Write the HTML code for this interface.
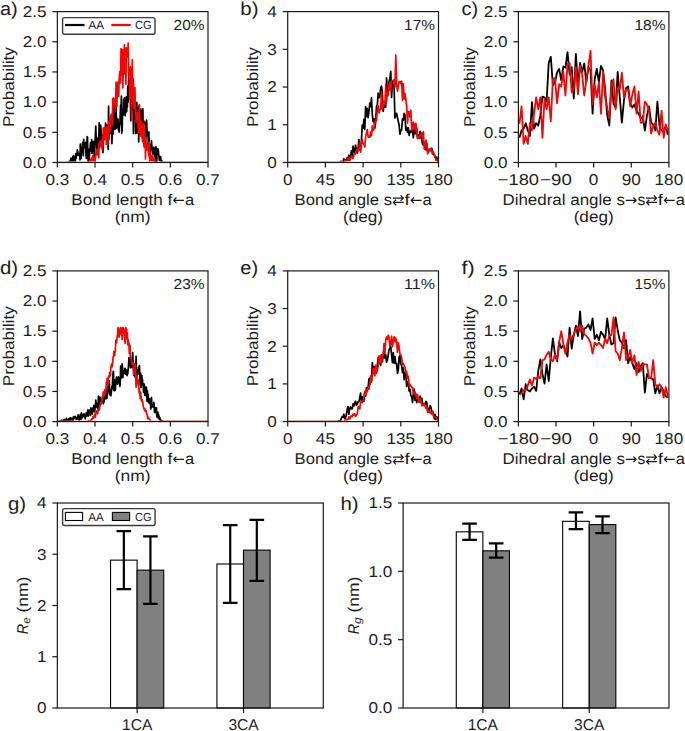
<!DOCTYPE html>
<html><head><meta charset="utf-8"><style>
html,body{margin:0;padding:0;background:#fff;}
svg{display:block;font-family:"Liberation Sans", sans-serif;text-rendering:geometricPrecision;}
</style></head><body>
<svg width="685" height="731" viewBox="0 0 685 731">
<rect width="685" height="731" fill="#fff"/>
<clipPath id="clipa"><rect x="57.35" y="11.6" width="150.65" height="150.0"/></clipPath>
<g clip-path="url(#clipa)">
<polyline points="57.35,162.50 57.73,162.50 58.10,162.50 58.48,162.50 58.86,162.50 59.23,162.50 59.61,162.50 59.99,162.50 60.36,162.50 60.74,162.50 61.12,162.50 61.49,162.50 61.87,162.50 62.25,162.50 62.62,162.50 63.00,162.50 63.38,162.50 63.75,162.50 64.13,162.50 64.51,162.50 64.88,162.50 65.26,162.50 65.64,162.50 66.01,162.50 66.39,162.50 66.77,162.50 67.14,162.50 67.52,162.50 67.90,162.50 68.27,162.50 68.65,162.50 69.03,161.73 69.40,161.52 69.78,162.50 70.16,162.50 70.53,160.18 70.91,158.03 71.29,159.63 71.66,162.50 72.04,160.38 72.41,162.26 72.79,156.48 73.17,158.28 73.54,155.61 73.92,156.90 74.30,161.09 74.67,162.50 75.05,162.50 75.43,161.01 75.80,153.49 76.18,158.22 76.56,154.90 76.93,155.58 77.31,149.85 77.69,151.37 78.06,152.76 78.44,153.31 78.82,155.33 79.19,154.00 79.57,154.46 79.95,159.99 80.32,144.18 80.70,155.16 81.08,158.75 81.45,150.49 81.83,147.21 82.21,151.92 82.58,142.39 82.96,150.60 83.34,155.70 83.71,139.47 84.09,148.02 84.47,146.58 84.84,143.04 85.22,145.83 85.60,142.44 85.97,154.70 86.35,158.43 86.73,153.40 87.10,136.56 87.48,137.21 87.86,154.02 88.23,162.50 88.61,162.50 88.99,149.28 89.36,159.66 89.74,149.01 90.12,148.86 90.49,142.96 90.87,145.37 91.25,151.13 91.62,139.68 92.00,153.53 92.38,150.94 92.75,145.15 93.13,141.40 93.51,141.77 93.88,141.79 94.26,159.20 94.64,144.56 95.01,140.91 95.39,135.53 95.77,126.11 96.14,137.05 96.52,147.74 96.90,149.68 97.27,138.86 97.65,147.45 98.03,142.25 98.40,136.92 98.78,139.20 99.16,122.95 99.53,141.21 99.91,144.36 100.29,141.41 100.66,124.98 101.04,129.06 101.42,136.30 101.79,134.46 102.17,140.94 102.55,144.26 102.92,152.66 103.30,143.12 103.67,134.07 104.05,131.32 104.43,131.83 104.80,139.57 105.18,138.55 105.56,123.14 105.93,138.24 106.31,131.55 106.69,125.12 107.06,136.42 107.44,126.63 107.82,139.40 108.19,149.39 108.57,106.13 108.95,139.58 109.32,125.48 109.70,119.44 110.08,131.55 110.45,133.38 110.83,128.13 111.21,133.73 111.58,120.13 111.96,143.54 112.34,126.90 112.71,117.99 113.09,134.05 113.47,120.61 113.84,117.97 114.22,102.91 114.60,106.68 114.97,129.37 115.35,108.87 115.73,109.11 116.10,103.90 116.48,128.09 116.86,118.47 117.23,121.21 117.61,125.79 117.99,119.11 118.36,129.65 118.74,123.92 119.12,132.29 119.49,124.97 119.87,124.83 120.25,113.63 120.62,104.92 121.00,115.85 121.38,96.11 121.75,133.07 122.13,130.73 122.51,114.56 122.88,108.23 123.26,115.22 123.64,99.10 124.01,110.17 124.39,97.77 124.77,108.48 125.14,115.79 125.52,110.73 125.90,107.93 126.27,96.97 126.65,111.81 127.03,99.83 127.40,106.97 127.78,85.78 128.16,102.26 128.53,81.68 128.91,79.63 129.29,74.03 129.66,68.94 130.04,88.96 130.42,101.08 130.79,120.85 131.17,114.20 131.55,106.93 131.92,81.79 132.30,108.54 132.68,90.97 133.05,104.08 133.43,133.58 133.80,102.77 134.18,94.59 134.56,100.73 134.93,98.08 135.31,113.26 135.69,133.60 136.06,108.85 136.44,123.36 136.82,102.47 137.19,132.87 137.57,121.43 137.95,108.43 138.32,116.44 138.70,141.91 139.08,105.69 139.45,134.90 139.83,116.84 140.21,125.70 140.58,124.00 140.96,109.20 141.34,120.62 141.71,133.65 142.09,117.42 142.47,126.57 142.84,108.79 143.22,130.12 143.60,120.61 143.97,136.17 144.35,125.41 144.73,137.51 145.10,122.18 145.48,147.68 145.86,138.78 146.23,127.88 146.61,120.02 146.99,129.29 147.36,135.78 147.74,135.44 148.12,133.50 148.49,151.65 148.87,131.95 149.25,146.16 149.62,144.13 150.00,155.35 150.38,150.79 150.75,145.38 151.13,149.43 151.51,140.75 151.88,146.79 152.26,149.44 152.64,154.24 153.01,148.95 153.39,147.40 153.77,150.55 154.14,152.73 154.52,157.32 154.90,148.90 155.27,147.36 155.65,162.50 156.03,146.73 156.40,156.16 156.78,161.14 157.16,148.84 157.53,153.61 157.91,148.78 158.29,149.93 158.66,153.89 159.04,157.42 159.42,160.39 159.79,159.39 160.17,160.28 160.55,156.54 160.92,159.80 161.30,162.07 161.68,160.46 162.05,162.50 162.43,162.50 162.81,162.50 163.18,162.50 163.56,162.50 163.93,162.50 164.31,162.50 164.69,162.50 165.06,162.50 165.44,162.50 165.82,162.50 166.19,162.50 166.57,162.50 166.95,162.50 167.32,162.50 167.70,162.50 168.08,162.50 168.45,162.50 168.83,162.50 169.21,162.50 169.58,162.50 169.96,162.50 170.34,162.50 170.71,162.50 171.09,162.50 171.47,162.50 171.84,162.50 172.22,162.50 172.60,162.50 172.97,162.50 173.35,162.50 173.73,162.50 174.10,162.50 174.48,162.50 174.86,162.50 175.23,162.50 175.61,162.50 175.99,162.50 176.36,162.50 176.74,162.50 177.12,162.50 177.49,162.50 177.87,162.50 178.25,162.50 178.62,162.50 179.00,162.50 179.38,162.50 179.75,162.50 180.13,162.50 180.51,162.50 180.88,162.50 181.26,162.50 181.64,162.50 182.01,162.50 182.39,162.50 182.77,162.50 183.14,162.50 183.52,162.50 183.90,162.50 184.27,162.50 184.65,162.50 185.03,162.50 185.40,162.50 185.78,162.50 186.16,162.50 186.53,162.50 186.91,162.50 187.29,162.50 187.66,162.50 188.04,162.50 188.42,162.50 188.79,162.50 189.17,162.50 189.55,162.50 189.92,162.50 190.30,162.50 190.68,162.50 191.05,162.50 191.43,162.50 191.81,162.50 192.18,162.50 192.56,162.50 192.93,162.50 193.31,162.50 193.69,162.50 194.06,162.50 194.44,162.50 194.82,162.50 195.19,162.50 195.57,162.50 195.95,162.50 196.32,162.50 196.70,162.50 197.08,162.50 197.45,162.50 197.83,162.50 198.21,162.50 198.58,162.50 198.96,162.50 199.34,162.50 199.71,162.50 200.09,162.50 200.47,162.50 200.84,162.50 201.22,162.50 201.60,162.50 201.97,162.50 202.35,162.50 202.73,162.50 203.10,162.50 203.48,162.50 203.86,162.50 204.23,162.50 204.61,162.50 204.99,162.50 205.36,162.50 205.74,162.50 206.12,162.50 206.49,162.50 206.87,162.50 207.25,162.50 207.62,162.50 208.00,162.50" fill="none" stroke="#000000" stroke-width="1.7" stroke-linejoin="round"/>
<polyline points="57.35,162.50 57.73,162.50 58.10,162.50 58.48,162.50 58.86,162.50 59.23,162.50 59.61,162.50 59.99,162.50 60.36,162.50 60.74,162.50 61.12,162.50 61.49,162.50 61.87,162.50 62.25,162.50 62.62,162.50 63.00,162.50 63.38,162.50 63.75,162.50 64.13,162.50 64.51,162.50 64.88,162.50 65.26,162.50 65.64,162.50 66.01,162.50 66.39,162.50 66.77,162.50 67.14,162.50 67.52,162.50 67.90,162.50 68.27,162.50 68.65,162.50 69.03,162.50 69.40,162.50 69.78,162.50 70.16,162.50 70.53,162.50 70.91,162.50 71.29,162.50 71.66,162.50 72.04,162.50 72.41,162.50 72.79,162.50 73.17,162.50 73.54,162.50 73.92,162.50 74.30,162.50 74.67,162.50 75.05,162.50 75.43,162.50 75.80,162.50 76.18,162.50 76.56,162.50 76.93,162.50 77.31,162.50 77.69,162.50 78.06,162.50 78.44,162.50 78.82,162.50 79.19,162.50 79.57,162.50 79.95,162.50 80.32,162.50 80.70,162.50 81.08,162.50 81.45,162.50 81.83,162.50 82.21,162.50 82.58,162.50 82.96,162.50 83.34,162.50 83.71,162.50 84.09,162.50 84.47,162.50 84.84,162.50 85.22,162.50 85.60,162.50 85.97,162.50 86.35,162.50 86.73,162.50 87.10,162.50 87.48,162.50 87.86,162.50 88.23,162.50 88.61,162.50 88.99,162.50 89.36,162.50 89.74,160.63 90.12,162.11 90.49,162.50 90.87,160.70 91.25,158.53 91.62,162.50 92.00,159.61 92.38,156.89 92.75,155.57 93.13,157.56 93.51,160.22 93.88,160.88 94.26,159.00 94.64,157.23 95.01,162.20 95.39,157.75 95.77,155.55 96.14,149.89 96.52,154.98 96.90,153.55 97.27,152.65 97.65,154.27 98.03,148.52 98.40,154.25 98.78,157.99 99.16,142.88 99.53,147.96 99.91,141.75 100.29,142.09 100.66,146.48 101.04,140.87 101.42,146.89 101.79,141.44 102.17,149.29 102.55,136.56 102.92,147.26 103.30,128.11 103.67,135.02 104.05,127.59 104.43,136.52 104.80,137.66 105.18,133.72 105.56,127.49 105.93,132.71 106.31,144.46 106.69,134.85 107.06,126.43 107.44,133.59 107.82,145.20 108.19,131.78 108.57,139.62 108.95,122.17 109.32,120.59 109.70,132.23 110.08,125.96 110.45,116.39 110.83,116.11 111.21,114.11 111.58,114.52 111.96,116.36 112.34,124.84 112.71,98.55 113.09,105.39 113.47,97.77 113.84,98.71 114.22,101.67 114.60,102.54 114.97,103.76 115.35,111.57 115.73,97.78 116.10,82.20 116.48,102.19 116.86,106.17 117.23,88.71 117.61,82.28 117.99,88.43 118.36,91.25 118.74,96.30 119.12,80.33 119.49,74.77 119.87,71.63 120.25,78.20 120.62,82.86 121.00,48.65 121.38,69.29 121.75,53.45 122.13,74.76 122.51,49.49 122.88,87.85 123.26,70.94 123.64,53.71 124.01,65.67 124.39,44.80 124.77,73.88 125.14,47.82 125.52,57.32 125.90,84.03 126.27,47.82 126.65,48.21 127.03,56.65 127.40,51.28 127.78,55.03 128.16,42.99 128.53,72.73 128.91,77.19 129.29,74.16 129.66,95.47 130.04,70.38 130.42,66.60 130.79,94.12 131.17,101.40 131.55,120.00 131.92,89.66 132.30,59.70 132.68,84.63 133.05,101.34 133.43,78.96 133.80,102.87 134.18,108.65 134.56,102.27 134.93,87.64 135.31,107.68 135.69,108.41 136.06,122.75 136.44,115.09 136.82,114.38 137.19,117.68 137.57,112.26 137.95,117.43 138.32,132.29 138.70,126.61 139.08,116.05 139.45,104.71 139.83,123.51 140.21,136.33 140.58,121.06 140.96,122.61 141.34,135.99 141.71,130.96 142.09,138.01 142.47,141.15 142.84,123.09 143.22,141.74 143.60,142.43 143.97,146.87 144.35,124.72 144.73,139.45 145.10,135.88 145.48,159.08 145.86,143.92 146.23,146.81 146.61,149.86 146.99,149.99 147.36,142.02 147.74,149.02 148.12,146.63 148.49,149.53 148.87,155.60 149.25,142.33 149.62,162.16 150.00,152.28 150.38,158.97 150.75,156.87 151.13,155.88 151.51,160.70 151.88,155.40 152.26,156.75 152.64,158.69 153.01,160.83 153.39,158.92 153.77,159.04 154.14,157.82 154.52,159.00 154.90,162.02 155.27,162.50 155.65,161.42 156.03,161.32 156.40,162.50 156.78,162.50 157.16,162.50 157.53,162.50 157.91,162.50 158.29,162.50 158.66,162.50 159.04,162.50 159.42,162.50 159.79,162.50 160.17,162.50 160.55,162.50 160.92,162.50 161.30,162.50 161.68,162.50 162.05,162.50 162.43,162.50 162.81,162.50 163.18,162.50 163.56,162.50 163.93,162.50 164.31,162.50 164.69,162.50 165.06,162.50 165.44,162.50 165.82,162.50 166.19,162.50 166.57,162.50 166.95,162.50 167.32,162.50 167.70,162.50 168.08,162.50 168.45,162.50 168.83,162.50 169.21,162.50 169.58,162.50 169.96,162.50 170.34,162.50 170.71,162.50 171.09,162.50 171.47,162.50 171.84,162.50 172.22,162.50 172.60,162.50 172.97,162.50 173.35,162.50 173.73,162.50 174.10,162.50 174.48,162.50 174.86,162.50 175.23,162.50 175.61,162.50 175.99,162.50 176.36,162.50 176.74,162.50 177.12,162.50 177.49,162.50 177.87,162.50 178.25,162.50 178.62,162.50 179.00,162.50 179.38,162.50 179.75,162.50 180.13,162.50 180.51,162.50 180.88,162.50 181.26,162.50 181.64,162.50 182.01,162.50 182.39,162.50 182.77,162.50 183.14,162.50 183.52,162.50 183.90,162.50 184.27,162.50 184.65,162.50 185.03,162.50 185.40,162.50 185.78,162.50 186.16,162.50 186.53,162.50 186.91,162.50 187.29,162.50 187.66,162.50 188.04,162.50 188.42,162.50 188.79,162.50 189.17,162.50 189.55,162.50 189.92,162.50 190.30,162.50 190.68,162.50 191.05,162.50 191.43,162.50 191.81,162.50 192.18,162.50 192.56,162.50 192.93,162.50 193.31,162.50 193.69,162.50 194.06,162.50 194.44,162.50 194.82,162.50 195.19,162.50 195.57,162.50 195.95,162.50 196.32,162.50 196.70,162.50 197.08,162.50 197.45,162.50 197.83,162.50 198.21,162.50 198.58,162.50 198.96,162.50 199.34,162.50 199.71,162.50 200.09,162.50 200.47,162.50 200.84,162.50 201.22,162.50 201.60,162.50 201.97,162.50 202.35,162.50 202.73,162.50 203.10,162.50 203.48,162.50 203.86,162.50 204.23,162.50 204.61,162.50 204.99,162.50 205.36,162.50 205.74,162.50 206.12,162.50 206.49,162.50 206.87,162.50 207.25,162.50 207.62,162.50 208.00,162.50" fill="none" stroke="#ff0000" stroke-width="1.7" stroke-linejoin="round"/>
</g>
<clipPath id="clipb"><rect x="287.7" y="11.6" width="150.8" height="150.0"/></clipPath>
<g clip-path="url(#clipb)">
<polyline points="287.70,162.50 288.54,162.50 289.38,162.50 290.21,162.50 291.05,162.50 291.89,162.50 292.73,162.50 293.56,162.50 294.40,162.50 295.24,162.50 296.08,162.50 296.92,162.50 297.75,162.50 298.59,162.50 299.43,162.50 300.27,162.50 301.10,162.50 301.94,162.50 302.78,162.50 303.62,162.50 304.46,162.50 305.29,162.50 306.13,162.50 306.97,162.50 307.81,162.50 308.64,162.50 309.48,162.50 310.32,162.50 311.16,162.50 312.00,162.50 312.83,162.50 313.67,162.50 314.51,162.50 315.35,162.50 316.18,162.50 317.02,162.50 317.86,162.50 318.70,162.50 319.54,162.50 320.37,162.50 321.21,162.50 322.05,162.50 322.89,162.50 323.72,162.50 324.56,162.50 325.40,162.50 326.24,162.50 327.08,162.50 327.91,162.50 328.75,162.50 329.59,162.50 330.43,162.50 331.26,162.50 332.10,162.50 332.94,162.50 333.78,162.50 334.62,162.50 335.45,162.50 336.29,162.50 337.13,162.50 337.97,162.50 338.80,162.50 339.64,162.50 340.48,161.75 341.32,161.27 342.16,162.16 342.99,162.16 343.83,158.76 344.67,160.14 345.51,159.77 346.34,159.82 347.18,157.67 348.02,160.22 348.86,155.04 349.70,160.43 350.53,157.11 351.37,150.76 352.21,155.87 353.05,146.16 353.88,150.72 354.72,153.49 355.56,145.18 356.40,150.16 357.24,153.14 358.07,149.58 358.91,139.53 359.75,149.05 360.59,150.14 361.42,140.77 362.26,125.09 363.10,128.26 363.94,119.33 364.78,129.53 365.61,106.73 366.45,116.68 367.29,108.29 368.13,117.70 368.96,111.62 369.80,103.07 370.64,106.51 371.48,97.89 372.32,114.87 373.15,121.67 373.99,118.85 374.83,128.10 375.67,122.04 376.50,106.35 377.34,104.73 378.18,93.05 379.02,97.65 379.86,96.84 380.69,87.83 381.53,86.02 382.37,92.50 383.21,111.46 384.04,104.87 384.88,107.04 385.72,106.90 386.56,77.74 387.40,93.95 388.23,89.51 389.07,80.93 389.91,78.70 390.75,71.36 391.58,97.51 392.42,81.49 393.26,85.65 394.10,87.16 394.94,118.08 395.77,115.81 396.61,113.32 397.45,117.37 398.29,121.31 399.12,125.24 399.96,134.24 400.80,130.36 401.64,129.91 402.48,118.93 403.31,120.28 404.15,113.36 404.99,114.90 405.83,130.15 406.66,127.34 407.50,132.48 408.34,127.77 409.18,135.51 410.02,131.19 410.85,132.16 411.69,129.38 412.53,132.17 413.37,137.64 414.20,124.50 415.04,133.91 415.88,131.89 416.72,128.27 417.56,137.84 418.39,135.14 419.23,138.48 420.07,131.36 420.91,136.75 421.74,140.08 422.58,144.15 423.42,145.21 424.26,143.19 425.10,143.68 425.93,149.82 426.77,143.88 427.61,151.29 428.45,151.12 429.28,149.44 430.12,150.34 430.96,150.65 431.80,148.24 432.64,154.03 433.47,153.80 434.31,154.71 435.15,157.74 435.99,158.02 436.82,157.03 437.66,160.31 438.50,162.50" fill="none" stroke="#000000" stroke-width="1.7" stroke-linejoin="round"/>
<polyline points="287.70,162.50 288.54,162.50 289.38,162.50 290.21,162.50 291.05,162.50 291.89,162.50 292.73,162.50 293.56,162.50 294.40,162.50 295.24,162.50 296.08,162.50 296.92,162.50 297.75,162.50 298.59,162.50 299.43,162.50 300.27,162.50 301.10,162.50 301.94,162.50 302.78,162.50 303.62,162.50 304.46,162.50 305.29,162.50 306.13,162.50 306.97,162.50 307.81,162.50 308.64,162.50 309.48,162.50 310.32,162.50 311.16,162.50 312.00,162.50 312.83,162.50 313.67,162.50 314.51,162.50 315.35,162.50 316.18,162.50 317.02,162.50 317.86,162.50 318.70,162.50 319.54,162.50 320.37,162.50 321.21,162.50 322.05,162.50 322.89,162.50 323.72,162.50 324.56,162.50 325.40,162.50 326.24,162.50 327.08,162.50 327.91,162.50 328.75,162.50 329.59,162.50 330.43,162.50 331.26,162.50 332.10,162.50 332.94,162.50 333.78,162.50 334.62,162.50 335.45,162.50 336.29,162.50 337.13,162.50 337.97,162.50 338.80,162.50 339.64,162.50 340.48,162.50 341.32,162.50 342.16,162.50 342.99,162.50 343.83,162.10 344.67,160.32 345.51,161.01 346.34,160.60 347.18,160.05 348.02,158.13 348.86,160.14 349.70,157.18 350.53,158.46 351.37,156.14 352.21,157.22 353.05,158.46 353.88,154.58 354.72,154.51 355.56,153.34 356.40,151.62 357.24,149.17 358.07,150.97 358.91,149.02 359.75,142.93 360.59,152.15 361.42,144.33 362.26,139.53 363.10,143.63 363.94,144.12 364.78,146.93 365.61,136.33 366.45,132.90 367.29,129.53 368.13,137.21 368.96,136.43 369.80,137.17 370.64,132.00 371.48,135.72 372.32,125.88 373.15,130.41 373.99,129.26 374.83,122.53 375.67,120.11 376.50,120.43 377.34,109.34 378.18,105.89 379.02,113.00 379.86,109.78 380.69,109.13 381.53,91.79 382.37,109.16 383.21,105.51 384.04,101.53 384.88,105.16 385.72,84.52 386.56,101.53 387.40,92.36 388.23,95.41 389.07,83.72 389.91,88.92 390.75,90.80 391.58,81.29 392.42,80.55 393.26,80.87 394.10,79.89 394.94,87.05 395.77,54.98 396.61,83.28 397.45,91.23 398.29,86.38 399.12,81.67 399.96,81.54 400.80,83.54 401.64,81.23 402.48,100.31 403.31,83.50 404.15,99.02 404.99,93.59 405.83,99.08 406.66,105.90 407.50,123.07 408.34,111.92 409.18,111.93 410.02,117.16 410.85,110.22 411.69,129.91 412.53,123.60 413.37,122.10 414.20,129.78 415.04,124.16 415.88,123.43 416.72,131.52 417.56,138.61 418.39,136.86 419.23,138.04 420.07,134.68 420.91,135.50 421.74,132.79 422.58,139.73 423.42,131.68 424.26,149.29 425.10,148.25 425.93,140.07 426.77,143.63 427.61,153.78 428.45,152.40 429.28,149.06 430.12,150.30 430.96,148.41 431.80,150.40 432.64,153.67 433.47,151.62 434.31,154.66 435.15,156.79 435.99,160.30 436.82,160.13 437.66,160.55 438.50,161.65" fill="none" stroke="#ff0000" stroke-width="1.7" stroke-linejoin="round"/>
</g>
<clipPath id="clipc"><rect x="518.4" y="11.6" width="150.5" height="150.0"/></clipPath>
<g clip-path="url(#clipc)">
<polyline points="519.45,137.75 521.54,130.51 523.63,128.70 525.72,123.27 527.81,130.51 529.90,135.94 531.99,102.14 534.08,128.70 536.17,123.27 538.26,125.68 540.35,115.42 542.44,96.71 544.53,97.31 546.62,101.54 548.71,62.91 550.80,56.87 552.89,85.24 554.98,82.22 557.07,72.56 559.16,68.94 561.25,80.41 563.34,66.53 565.43,67.73 567.52,52.04 569.61,74.37 571.70,67.13 573.79,98.52 575.88,53.85 577.97,85.24 580.06,62.91 582.15,71.96 584.24,63.51 586.33,82.22 588.42,67.13 590.51,70.15 592.60,113.61 594.70,79.20 596.79,68.94 598.88,82.22 600.97,65.92 603.06,70.15 605.15,89.46 607.24,115.42 609.33,125.68 611.42,80.41 613.51,103.35 615.60,107.57 617.69,71.96 619.78,97.31 621.87,122.66 623.96,100.33 626.05,88.26 628.14,86.45 630.23,103.35 632.32,107.57 634.41,104.55 636.50,110.59 638.59,113.61 640.68,118.44 642.77,116.63 644.86,130.51 646.95,115.42 649.04,106.37 651.13,122.66 653.22,124.47 655.31,130.51 657.40,101.54 659.49,125.68 661.58,130.51 663.67,131.72 665.76,125.68 667.85,134.73" fill="none" stroke="#000000" stroke-width="1.8" stroke-linejoin="round"/>
<polyline points="519.45,123.87 521.54,106.37 523.63,143.79 525.72,135.94 527.81,143.79 529.90,123.27 531.99,130.51 534.08,113.61 536.17,97.31 538.26,109.38 540.35,97.31 542.44,137.75 544.53,98.52 546.62,109.38 548.71,97.31 550.80,121.46 552.89,79.20 554.98,78.00 557.07,103.35 559.16,84.03 561.25,86.45 563.34,71.96 565.43,95.50 567.52,64.11 569.61,62.91 571.70,92.48 573.79,88.26 575.88,67.13 577.97,94.29 580.06,65.92 582.15,74.37 584.24,95.50 586.33,80.41 588.42,65.92 590.51,50.83 592.60,104.55 594.70,85.24 596.79,97.31 598.88,82.22 600.97,113.61 603.06,71.96 605.15,97.31 607.24,107.57 609.33,118.44 611.42,85.24 613.51,79.20 615.60,109.38 617.69,86.45 619.78,89.46 621.87,72.56 623.96,97.31 626.05,89.46 628.14,89.46 630.23,106.37 632.32,94.29 634.41,86.45 636.50,113.61 638.59,91.28 640.68,122.66 642.77,122.66 644.86,101.54 646.95,104.55 649.04,110.59 651.13,133.53 653.22,125.68 655.31,122.66 657.40,130.51 659.49,134.73 661.58,110.59 663.67,137.75 665.76,124.47 667.85,130.51" fill="none" stroke="#ff0000" stroke-width="1.8" stroke-linejoin="round"/>
</g>
<clipPath id="clipd"><rect x="57.35" y="270.9" width="150.65" height="149.80000000000004"/></clipPath>
<g clip-path="url(#clipd)">
<polyline points="57.35,421.60 57.73,421.60 58.10,421.27 58.48,421.43 58.86,421.39 59.23,421.43 59.61,421.08 59.99,421.60 60.36,421.22 60.74,421.23 61.12,421.27 61.49,420.35 61.87,421.23 62.25,420.97 62.62,420.34 63.00,420.74 63.38,420.68 63.75,419.93 64.13,421.08 64.51,419.59 64.88,420.15 65.26,420.55 65.64,419.74 66.01,421.60 66.39,418.42 66.77,419.47 67.14,419.76 67.52,419.83 67.90,419.98 68.27,419.45 68.65,420.83 69.03,418.84 69.40,421.31 69.78,419.39 70.16,417.82 70.53,420.58 70.91,418.10 71.29,419.13 71.66,419.29 72.04,418.62 72.41,418.52 72.79,420.58 73.17,419.91 73.54,416.57 73.92,418.98 74.30,418.12 74.67,417.57 75.05,416.33 75.43,417.15 75.80,417.44 76.18,419.32 76.56,418.57 76.93,418.83 77.31,416.99 77.69,418.81 78.06,414.92 78.44,415.90 78.82,416.68 79.19,420.22 79.57,417.14 79.95,417.73 80.32,414.33 80.70,419.43 81.08,419.07 81.45,412.96 81.83,416.59 82.21,417.78 82.58,416.27 82.96,414.71 83.34,416.60 83.71,414.67 84.09,413.73 84.47,416.17 84.84,414.75 85.22,418.93 85.60,416.72 85.97,416.03 86.35,412.64 86.73,414.86 87.10,415.32 87.48,415.85 87.86,409.78 88.23,416.22 88.61,415.31 88.99,410.58 89.36,413.64 89.74,410.29 90.12,410.60 90.49,415.36 90.87,407.76 91.25,409.91 91.62,412.79 92.00,410.97 92.38,414.20 92.75,408.20 93.13,409.73 93.51,408.83 93.88,405.41 94.26,411.21 94.64,411.84 95.01,408.07 95.39,407.95 95.77,399.98 96.14,403.98 96.52,402.93 96.90,407.46 97.27,407.18 97.65,404.00 98.03,409.08 98.40,396.05 98.78,402.13 99.16,396.77 99.53,403.34 99.91,405.23 100.29,397.41 100.66,404.42 101.04,400.68 101.42,400.45 101.79,401.95 102.17,401.63 102.55,397.97 102.92,396.29 103.30,403.79 103.67,392.79 104.05,402.13 104.43,394.38 104.80,399.14 105.18,395.44 105.56,395.66 105.93,389.71 106.31,398.69 106.69,398.40 107.06,397.54 107.44,387.07 107.82,393.67 108.19,389.51 108.57,385.01 108.95,389.64 109.32,380.74 109.70,391.06 110.08,395.07 110.45,392.20 110.83,395.85 111.21,393.35 111.58,389.84 111.96,386.14 112.34,388.55 112.71,378.13 113.09,371.82 113.47,371.33 113.84,390.14 114.22,390.58 114.60,379.77 114.97,384.24 115.35,390.45 115.73,381.17 116.10,381.77 116.48,376.98 116.86,383.90 117.23,379.88 117.61,384.05 117.99,380.49 118.36,376.79 118.74,383.01 119.12,379.78 119.49,377.86 119.87,386.39 120.25,383.23 120.62,366.02 121.00,378.48 121.38,368.61 121.75,376.74 122.13,363.89 122.51,367.63 122.88,377.65 123.26,371.31 123.64,370.52 124.01,373.37 124.39,373.26 124.77,368.53 125.14,368.38 125.52,374.16 125.90,374.17 126.27,370.08 126.65,370.12 127.03,375.77 127.40,372.74 127.78,373.74 128.16,369.95 128.53,365.36 128.91,357.58 129.29,363.78 129.66,363.28 130.04,358.09 130.42,367.80 130.79,357.77 131.17,362.01 131.55,364.50 131.92,367.34 132.30,359.37 132.68,352.62 133.05,360.71 133.43,368.17 133.80,375.41 134.18,366.56 134.56,364.00 134.93,377.00 135.31,364.00 135.69,371.13 136.06,356.39 136.44,371.19 136.82,377.63 137.19,370.59 137.57,370.27 137.95,370.17 138.32,371.72 138.70,366.78 139.08,374.51 139.45,365.53 139.83,378.34 140.21,385.07 140.58,373.06 140.96,387.66 141.34,377.88 141.71,375.30 142.09,378.73 142.47,379.45 142.84,385.40 143.22,385.59 143.60,392.44 143.97,383.94 144.35,384.84 144.73,395.09 145.10,386.81 145.48,392.07 145.86,395.72 146.23,387.14 146.61,389.40 146.99,401.28 147.36,390.67 147.74,394.55 148.12,394.81 148.49,402.56 148.87,400.33 149.25,398.72 149.62,403.41 150.00,401.95 150.38,401.30 150.75,409.06 151.13,398.29 151.51,397.49 151.88,407.48 152.26,404.49 152.64,406.73 153.01,405.76 153.39,406.75 153.77,402.38 154.14,404.30 154.52,412.31 154.90,410.49 155.27,407.85 155.65,412.49 156.03,409.15 156.40,407.72 156.78,416.86 157.16,413.75 157.53,415.29 157.91,412.13 158.29,418.11 158.66,414.56 159.04,416.88 159.42,419.55 159.79,417.46 160.17,419.80 160.55,419.31 160.92,420.10 161.30,420.82 161.68,421.12 162.05,420.82 162.43,421.60 162.81,421.60 163.18,421.60 163.56,421.60 163.93,421.60 164.31,421.60 164.69,421.60 165.06,421.60 165.44,421.60 165.82,421.60 166.19,421.60 166.57,421.60 166.95,421.60 167.32,421.60 167.70,421.60 168.08,421.60 168.45,421.60 168.83,421.60 169.21,421.60 169.58,421.60 169.96,421.60 170.34,421.60 170.71,421.60 171.09,421.60 171.47,421.60 171.84,421.60 172.22,421.60 172.60,421.60 172.97,421.60 173.35,421.60 173.73,421.60 174.10,421.60 174.48,421.60 174.86,421.60 175.23,421.60 175.61,421.60 175.99,421.60 176.36,421.60 176.74,421.60 177.12,421.60 177.49,421.60 177.87,421.60 178.25,421.60 178.62,421.60 179.00,421.60 179.38,421.60 179.75,421.60 180.13,421.60 180.51,421.60 180.88,421.60 181.26,421.60 181.64,421.60 182.01,421.60 182.39,421.60 182.77,421.60 183.14,421.60 183.52,421.60 183.90,421.60 184.27,421.60 184.65,421.60 185.03,421.60 185.40,421.60 185.78,421.60 186.16,421.60 186.53,421.60 186.91,421.60 187.29,421.60 187.66,421.60 188.04,421.60 188.42,421.60 188.79,421.60 189.17,421.60 189.55,421.60 189.92,421.60 190.30,421.60 190.68,421.60 191.05,421.60 191.43,421.60 191.81,421.60 192.18,421.60 192.56,421.60 192.93,421.60 193.31,421.60 193.69,421.60 194.06,421.60 194.44,421.60 194.82,421.60 195.19,421.60 195.57,421.60 195.95,421.60 196.32,421.60 196.70,421.60 197.08,421.60 197.45,421.60 197.83,421.60 198.21,421.60 198.58,421.60 198.96,421.60 199.34,421.60 199.71,421.60 200.09,421.60 200.47,421.60 200.84,421.60 201.22,421.60 201.60,421.60 201.97,421.60 202.35,421.60 202.73,421.60 203.10,421.60 203.48,421.60 203.86,421.60 204.23,421.60 204.61,421.60 204.99,421.60 205.36,421.60 205.74,421.60 206.12,421.60 206.49,421.60 206.87,421.60 207.25,421.60 207.62,421.60 208.00,421.60" fill="none" stroke="#000000" stroke-width="1.7" stroke-linejoin="round"/>
<polyline points="57.35,421.60 57.73,421.60 58.10,421.60 58.48,421.60 58.86,421.60 59.23,421.60 59.61,421.60 59.99,421.60 60.36,421.60 60.74,421.60 61.12,421.60 61.49,421.60 61.87,421.60 62.25,421.60 62.62,421.60 63.00,421.60 63.38,421.60 63.75,421.60 64.13,421.60 64.51,421.60 64.88,421.60 65.26,421.60 65.64,421.60 66.01,421.60 66.39,421.60 66.77,421.60 67.14,421.60 67.52,421.60 67.90,421.60 68.27,421.60 68.65,421.60 69.03,421.60 69.40,421.60 69.78,421.60 70.16,421.60 70.53,421.60 70.91,421.60 71.29,421.60 71.66,421.60 72.04,421.60 72.41,421.60 72.79,421.60 73.17,421.60 73.54,421.60 73.92,421.60 74.30,421.60 74.67,421.60 75.05,421.60 75.43,421.60 75.80,421.60 76.18,421.60 76.56,421.60 76.93,421.60 77.31,421.60 77.69,421.60 78.06,421.60 78.44,421.60 78.82,421.60 79.19,421.60 79.57,421.60 79.95,421.60 80.32,421.60 80.70,421.60 81.08,421.60 81.45,421.60 81.83,421.60 82.21,421.60 82.58,421.60 82.96,421.60 83.34,421.60 83.71,421.60 84.09,421.60 84.47,421.60 84.84,421.60 85.22,421.60 85.60,421.60 85.97,421.60 86.35,421.60 86.73,421.60 87.10,421.60 87.48,421.60 87.86,421.44 88.23,421.25 88.61,420.87 88.99,421.06 89.36,420.82 89.74,420.77 90.12,421.39 90.49,421.06 90.87,420.29 91.25,420.00 91.62,420.22 92.00,418.65 92.38,418.73 92.75,416.87 93.13,416.58 93.51,418.38 93.88,416.21 94.26,415.85 94.64,416.35 95.01,413.86 95.39,417.18 95.77,414.88 96.14,412.45 96.52,411.01 96.90,410.79 97.27,410.56 97.65,413.74 98.03,409.14 98.40,410.43 98.78,409.80 99.16,409.85 99.53,408.92 99.91,405.88 100.29,404.67 100.66,402.68 101.04,401.88 101.42,403.46 101.79,400.88 102.17,399.53 102.55,395.90 102.92,397.34 103.30,391.95 103.67,395.97 104.05,394.36 104.43,394.13 104.80,389.69 105.18,392.53 105.56,390.03 105.93,392.11 106.31,382.31 106.69,389.31 107.06,378.26 107.44,379.82 107.82,384.42 108.19,380.08 108.57,376.44 108.95,377.46 109.32,376.41 109.70,372.37 110.08,376.20 110.45,374.06 110.83,367.16 111.21,366.75 111.58,363.77 111.96,366.86 112.34,365.35 112.71,361.72 113.09,356.82 113.47,357.04 113.84,351.46 114.22,355.16 114.60,355.33 114.97,351.56 115.35,351.37 115.73,340.38 116.10,340.33 116.48,342.98 116.86,339.50 117.23,336.32 117.61,334.33 117.99,327.56 118.36,328.41 118.74,332.08 119.12,337.08 119.49,333.10 119.87,332.86 120.25,328.01 120.62,327.56 121.00,331.30 121.38,335.19 121.75,332.80 122.13,339.35 122.51,327.56 122.88,333.59 123.26,327.56 123.64,328.23 124.01,332.44 124.39,333.97 124.77,339.54 125.14,343.30 125.52,330.74 125.90,327.56 126.27,333.24 126.65,329.40 127.03,339.32 127.40,332.73 127.78,344.79 128.16,339.50 128.53,344.60 128.91,342.99 129.29,353.40 129.66,352.43 130.04,344.98 130.42,358.11 130.79,357.55 131.17,357.41 131.55,362.38 131.92,364.06 132.30,363.61 132.68,362.43 133.05,362.50 133.43,363.63 133.80,374.57 134.18,368.12 134.56,370.78 134.93,372.60 135.31,364.45 135.69,376.94 136.06,387.16 136.44,377.75 136.82,375.62 137.19,378.22 137.57,382.92 137.95,379.28 138.32,384.99 138.70,385.75 139.08,392.83 139.45,388.97 139.83,392.68 140.21,398.67 140.58,392.48 140.96,396.39 141.34,400.82 141.71,400.32 142.09,399.46 142.47,402.28 142.84,402.45 143.22,406.22 143.60,407.59 143.97,408.41 144.35,409.67 144.73,408.53 145.10,411.04 145.48,411.39 145.86,410.75 146.23,410.98 146.61,414.01 146.99,414.05 147.36,416.27 147.74,418.49 148.12,417.10 148.49,417.75 148.87,418.74 149.25,419.39 149.62,419.32 150.00,419.67 150.38,420.79 150.75,421.60 151.13,421.60 151.51,421.60 151.88,421.60 152.26,421.60 152.64,421.60 153.01,421.60 153.39,421.60 153.77,421.60 154.14,421.60 154.52,421.60 154.90,421.60 155.27,421.60 155.65,421.60 156.03,421.60 156.40,421.60 156.78,421.60 157.16,421.60 157.53,421.60 157.91,421.60 158.29,421.60 158.66,421.60 159.04,421.60 159.42,421.60 159.79,421.60 160.17,421.60 160.55,421.60 160.92,421.60 161.30,421.60 161.68,421.60 162.05,421.60 162.43,421.60 162.81,421.60 163.18,421.60 163.56,421.60 163.93,421.60 164.31,421.60 164.69,421.60 165.06,421.60 165.44,421.60 165.82,421.60 166.19,421.60 166.57,421.60 166.95,421.60 167.32,421.60 167.70,421.60 168.08,421.60 168.45,421.60 168.83,421.60 169.21,421.60 169.58,421.60 169.96,421.60 170.34,421.60 170.71,421.60 171.09,421.60 171.47,421.60 171.84,421.60 172.22,421.60 172.60,421.60 172.97,421.60 173.35,421.60 173.73,421.60 174.10,421.60 174.48,421.60 174.86,421.60 175.23,421.60 175.61,421.60 175.99,421.60 176.36,421.60 176.74,421.60 177.12,421.60 177.49,421.60 177.87,421.60 178.25,421.60 178.62,421.60 179.00,421.60 179.38,421.60 179.75,421.60 180.13,421.60 180.51,421.60 180.88,421.60 181.26,421.60 181.64,421.60 182.01,421.60 182.39,421.60 182.77,421.60 183.14,421.60 183.52,421.60 183.90,421.60 184.27,421.60 184.65,421.60 185.03,421.60 185.40,421.60 185.78,421.60 186.16,421.60 186.53,421.60 186.91,421.60 187.29,421.60 187.66,421.60 188.04,421.60 188.42,421.60 188.79,421.60 189.17,421.60 189.55,421.60 189.92,421.60 190.30,421.60 190.68,421.60 191.05,421.60 191.43,421.60 191.81,421.60 192.18,421.60 192.56,421.60 192.93,421.60 193.31,421.60 193.69,421.60 194.06,421.60 194.44,421.60 194.82,421.60 195.19,421.60 195.57,421.60 195.95,421.60 196.32,421.60 196.70,421.60 197.08,421.60 197.45,421.60 197.83,421.60 198.21,421.60 198.58,421.60 198.96,421.60 199.34,421.60 199.71,421.60 200.09,421.60 200.47,421.60 200.84,421.60 201.22,421.60 201.60,421.60 201.97,421.60 202.35,421.60 202.73,421.60 203.10,421.60 203.48,421.60 203.86,421.60 204.23,421.60 204.61,421.60 204.99,421.60 205.36,421.60 205.74,421.60 206.12,421.60 206.49,421.60 206.87,421.60 207.25,421.60 207.62,421.60 208.00,421.60" fill="none" stroke="#ff0000" stroke-width="1.7" stroke-linejoin="round"/>
</g>
<clipPath id="clipe"><rect x="287.7" y="270.9" width="150.8" height="149.80000000000004"/></clipPath>
<g clip-path="url(#clipe)">
<polyline points="287.70,421.60 288.54,421.60 289.38,421.60 290.21,421.60 291.05,421.60 291.89,421.60 292.73,421.60 293.56,421.60 294.40,421.60 295.24,421.60 296.08,421.60 296.92,421.60 297.75,421.60 298.59,421.60 299.43,421.60 300.27,421.60 301.10,421.60 301.94,421.60 302.78,421.60 303.62,421.60 304.46,421.60 305.29,421.60 306.13,421.60 306.97,421.60 307.81,421.60 308.64,421.60 309.48,421.60 310.32,421.60 311.16,421.60 312.00,421.60 312.83,421.60 313.67,421.60 314.51,421.60 315.35,421.60 316.18,421.60 317.02,421.60 317.86,421.60 318.70,421.60 319.54,421.60 320.37,421.60 321.21,421.60 322.05,421.60 322.89,421.60 323.72,421.60 324.56,421.60 325.40,421.60 326.24,421.60 327.08,421.60 327.91,421.60 328.75,421.60 329.59,421.60 330.43,421.60 331.26,421.60 332.10,421.60 332.94,421.60 333.78,421.60 334.62,421.60 335.45,421.60 336.29,421.60 337.13,421.60 337.97,421.60 338.80,420.61 339.64,421.60 340.48,421.04 341.32,418.13 342.16,416.73 342.99,417.29 343.83,414.11 344.67,418.54 345.51,418.01 346.34,414.79 347.18,409.34 348.02,406.62 348.86,414.31 349.70,408.39 350.53,407.01 351.37,408.96 352.21,408.75 353.05,403.86 353.88,405.96 354.72,403.13 355.56,401.21 356.40,405.26 357.24,404.32 358.07,401.69 358.91,401.64 359.75,397.86 360.59,393.00 361.42,401.30 362.26,396.63 363.10,399.92 363.94,401.26 364.78,392.07 365.61,396.06 366.45,387.71 367.29,388.27 368.13,387.49 368.96,378.91 369.80,384.52 370.64,376.45 371.48,380.89 372.32,362.49 373.15,373.29 373.99,366.49 374.83,367.57 375.67,370.06 376.50,372.22 377.34,365.48 378.18,357.59 379.02,363.67 379.86,361.49 380.69,365.08 381.53,354.50 382.37,361.67 383.21,355.70 384.04,348.80 384.88,358.03 385.72,354.60 386.56,362.11 387.40,360.02 388.23,354.99 389.07,349.64 389.91,348.25 390.75,346.22 391.58,355.29 392.42,362.74 393.26,352.66 394.10,363.28 394.94,356.56 395.77,363.58 396.61,363.26 397.45,373.41 398.29,370.74 399.12,357.10 399.96,355.69 400.80,364.06 401.64,365.48 402.48,372.57 403.31,367.97 404.15,379.72 404.99,372.37 405.83,373.27 406.66,386.30 407.50,381.59 408.34,383.27 409.18,391.27 410.02,389.37 410.85,395.81 411.69,396.06 412.53,402.68 413.37,393.99 414.20,389.17 415.04,400.40 415.88,394.21 416.72,402.63 417.56,399.51 418.39,398.41 419.23,401.93 420.07,396.13 420.91,401.81 421.74,398.19 422.58,403.09 423.42,404.32 424.26,404.64 425.10,404.40 425.93,401.43 426.77,402.52 427.61,408.43 428.45,410.51 429.28,409.01 430.12,405.59 430.96,407.47 431.80,413.61 432.64,411.49 433.47,413.32 434.31,418.83 435.15,414.58 435.99,419.59 436.82,416.84 437.66,419.34 438.50,420.63" fill="none" stroke="#000000" stroke-width="1.7" stroke-linejoin="round"/>
<polyline points="287.70,421.60 288.54,421.60 289.38,421.60 290.21,421.60 291.05,421.60 291.89,421.60 292.73,421.60 293.56,421.60 294.40,421.60 295.24,421.60 296.08,421.60 296.92,421.60 297.75,421.60 298.59,421.60 299.43,421.60 300.27,421.60 301.10,421.60 301.94,421.60 302.78,421.60 303.62,421.60 304.46,421.60 305.29,421.60 306.13,421.60 306.97,421.60 307.81,421.60 308.64,421.60 309.48,421.60 310.32,421.60 311.16,421.60 312.00,421.60 312.83,421.60 313.67,421.60 314.51,421.60 315.35,421.60 316.18,421.60 317.02,421.60 317.86,421.60 318.70,421.60 319.54,421.60 320.37,421.60 321.21,421.60 322.05,421.60 322.89,421.60 323.72,421.60 324.56,421.60 325.40,421.60 326.24,421.60 327.08,421.60 327.91,421.60 328.75,421.60 329.59,421.60 330.43,421.60 331.26,421.60 332.10,421.60 332.94,421.60 333.78,421.60 334.62,421.60 335.45,421.60 336.29,421.60 337.13,421.60 337.97,421.60 338.80,421.60 339.64,421.60 340.48,421.60 341.32,421.60 342.16,421.60 342.99,421.60 343.83,421.60 344.67,420.89 345.51,420.54 346.34,419.43 347.18,419.81 348.02,419.18 348.86,416.75 349.70,418.83 350.53,416.69 351.37,415.91 352.21,416.55 353.05,414.07 353.88,415.35 354.72,413.77 355.56,416.27 356.40,415.25 357.24,414.09 358.07,407.21 358.91,406.58 359.75,408.76 360.59,402.00 361.42,401.22 362.26,402.57 363.10,401.09 363.94,397.43 364.78,391.35 365.61,394.29 366.45,390.29 367.29,391.78 368.13,386.89 368.96,389.19 369.80,383.50 370.64,376.26 371.48,382.07 372.32,374.67 373.15,368.27 373.99,369.32 374.83,375.64 375.67,365.16 376.50,373.29 377.34,370.43 378.18,366.42 379.02,355.97 379.86,362.95 380.69,356.16 381.53,362.74 382.37,355.12 383.21,355.25 384.04,343.59 384.88,352.79 385.72,339.88 386.56,337.15 387.40,339.46 388.23,335.06 389.07,337.63 389.91,346.13 390.75,344.20 391.58,336.07 392.42,346.55 393.26,341.08 394.10,336.78 394.94,341.90 395.77,338.10 396.61,341.67 397.45,352.20 398.29,342.95 399.12,347.00 399.96,354.03 400.80,354.41 401.64,357.77 402.48,364.13 403.31,363.33 404.15,366.02 404.99,367.21 405.83,372.76 406.66,371.31 407.50,378.32 408.34,376.32 409.18,385.91 410.02,384.40 410.85,385.72 411.69,387.26 412.53,387.48 413.37,394.07 414.20,392.66 415.04,392.01 415.88,395.49 416.72,398.18 417.56,394.48 418.39,400.94 419.23,402.24 420.07,398.72 420.91,400.21 421.74,405.80 422.58,404.07 423.42,405.26 424.26,403.46 425.10,406.25 425.93,408.40 426.77,406.51 427.61,412.51 428.45,412.28 429.28,410.22 430.12,412.76 430.96,413.44 431.80,413.94 432.64,411.08 433.47,416.35 434.31,417.05 435.15,416.84 435.99,417.48 436.82,418.96 437.66,420.19 438.50,421.25" fill="none" stroke="#ff0000" stroke-width="1.7" stroke-linejoin="round"/>
</g>
<clipPath id="clipf"><rect x="518.4" y="270.9" width="150.5" height="149.80000000000004"/></clipPath>
<g clip-path="url(#clipf)">
<polyline points="519.45,394.47 521.54,388.45 523.63,399.30 525.72,384.23 527.81,390.25 529.90,391.46 531.99,388.45 534.08,386.64 536.17,390.86 538.26,370.96 540.35,359.51 542.44,373.98 544.53,383.62 546.62,364.33 548.71,381.21 550.80,357.10 552.89,338.41 554.98,354.09 557.07,361.32 559.16,342.03 561.25,348.06 563.34,345.04 565.43,351.07 567.52,356.50 569.61,327.56 571.70,348.66 573.79,334.80 575.88,325.75 577.97,336.00 580.06,311.29 582.15,339.02 584.24,328.77 586.33,327.56 588.42,324.55 590.51,329.97 592.60,318.52 594.70,339.02 596.79,334.80 598.88,340.22 600.97,331.78 603.06,334.80 605.15,339.02 607.24,318.52 609.33,334.80 611.42,344.44 613.51,343.24 615.60,317.32 617.69,329.97 619.78,340.22 621.87,342.63 623.96,348.06 626.05,340.22 628.14,363.13 630.23,357.10 632.32,363.13 634.41,369.16 636.50,363.13 638.59,372.17 640.68,366.14 642.77,363.13 644.86,392.67 646.95,373.98 649.04,378.20 651.13,378.20 653.22,379.40 655.31,393.27 657.40,385.43 659.49,393.27 661.58,387.24 663.67,391.46 665.76,396.28 667.85,397.49" fill="none" stroke="#000000" stroke-width="1.8" stroke-linejoin="round"/>
<polyline points="519.45,394.47 521.54,393.27 523.63,390.25 525.72,390.25 527.81,385.43 529.90,379.40 531.99,385.43 534.08,377.60 536.17,378.80 538.26,376.39 540.35,378.20 542.44,360.11 544.53,359.51 546.62,354.69 548.71,351.68 550.80,359.51 552.89,361.32 554.98,354.69 557.07,360.11 559.16,342.03 561.25,331.18 563.34,343.84 565.43,353.48 567.52,342.03 569.61,334.80 571.70,339.02 573.79,334.19 575.88,329.37 577.97,326.36 580.06,331.78 582.15,325.75 584.24,334.19 586.33,336.00 588.42,338.41 590.51,342.63 592.60,353.48 594.70,342.63 596.79,345.04 598.88,342.63 600.97,345.04 603.06,348.06 605.15,338.41 607.24,343.24 609.33,335.40 611.42,334.80 613.51,317.32 615.60,351.07 617.69,353.48 619.78,360.11 621.87,348.06 623.96,332.39 626.05,360.11 628.14,357.10 630.23,349.87 632.32,363.13 634.41,355.29 636.50,375.18 638.59,361.92 640.68,370.96 642.77,364.33 644.86,364.33 646.95,364.33 649.04,378.20 651.13,378.20 653.22,360.11 655.31,384.23 657.40,387.24 659.49,384.23 661.58,387.24 663.67,397.49 665.76,387.24 667.85,396.28" fill="none" stroke="#ff0000" stroke-width="1.8" stroke-linejoin="round"/>
</g>
<rect x="57.35" y="11.60" width="150.65" height="150.90" fill="none" stroke="#1a1a1a" stroke-width="1.2"/>
<rect x="287.70" y="11.60" width="150.80" height="150.90" fill="none" stroke="#1a1a1a" stroke-width="1.2"/>
<rect x="518.40" y="11.60" width="150.50" height="150.90" fill="none" stroke="#1a1a1a" stroke-width="1.2"/>
<rect x="57.35" y="270.90" width="150.65" height="150.70" fill="none" stroke="#1a1a1a" stroke-width="1.2"/>
<rect x="287.70" y="270.90" width="150.80" height="150.70" fill="none" stroke="#1a1a1a" stroke-width="1.2"/>
<rect x="518.40" y="270.90" width="150.50" height="150.70" fill="none" stroke="#1a1a1a" stroke-width="1.2"/>
<path d="M52.35,162.50H57.35" stroke="#1a1a1a" stroke-width="1.2"/>
<text x="22.70" y="167.80" font-size="15.67" textLength="23.85" lengthAdjust="spacingAndGlyphs" fill="#1c1c1c">0.0</text>
<path d="M52.35,132.32H57.35" stroke="#1a1a1a" stroke-width="1.2"/>
<text x="22.70" y="137.62" font-size="15.67" textLength="23.85" lengthAdjust="spacingAndGlyphs" fill="#1c1c1c">0.5</text>
<path d="M52.35,102.14H57.35" stroke="#1a1a1a" stroke-width="1.2"/>
<text x="22.70" y="107.44" font-size="15.67" textLength="23.85" lengthAdjust="spacingAndGlyphs" fill="#1c1c1c">1.0</text>
<path d="M52.35,71.96H57.35" stroke="#1a1a1a" stroke-width="1.2"/>
<text x="22.70" y="77.26" font-size="15.67" textLength="23.85" lengthAdjust="spacingAndGlyphs" fill="#1c1c1c">1.5</text>
<path d="M52.35,41.78H57.35" stroke="#1a1a1a" stroke-width="1.2"/>
<text x="22.70" y="47.08" font-size="15.67" textLength="23.85" lengthAdjust="spacingAndGlyphs" fill="#1c1c1c">2.0</text>
<path d="M52.35,11.60H57.35" stroke="#1a1a1a" stroke-width="1.2"/>
<text x="22.70" y="16.90" font-size="15.67" textLength="23.85" lengthAdjust="spacingAndGlyphs" fill="#1c1c1c">2.5</text>
<path d="M57.35,162.50V167.50" stroke="#1a1a1a" stroke-width="1.2"/>
<text x="45.42" y="184.70" font-size="15.67" textLength="23.85" lengthAdjust="spacingAndGlyphs" fill="#1c1c1c">0.3</text>
<path d="M95.01,162.50V167.50" stroke="#1a1a1a" stroke-width="1.2"/>
<text x="83.09" y="184.70" font-size="15.67" textLength="23.85" lengthAdjust="spacingAndGlyphs" fill="#1c1c1c">0.4</text>
<path d="M132.68,162.50V167.50" stroke="#1a1a1a" stroke-width="1.2"/>
<text x="120.75" y="184.70" font-size="15.67" textLength="23.85" lengthAdjust="spacingAndGlyphs" fill="#1c1c1c">0.5</text>
<path d="M170.34,162.50V167.50" stroke="#1a1a1a" stroke-width="1.2"/>
<text x="158.41" y="184.70" font-size="15.67" textLength="23.85" lengthAdjust="spacingAndGlyphs" fill="#1c1c1c">0.6</text>
<path d="M208.00,162.50V167.50" stroke="#1a1a1a" stroke-width="1.2"/>
<text x="196.07" y="184.70" font-size="15.67" textLength="23.85" lengthAdjust="spacingAndGlyphs" fill="#1c1c1c">0.7</text>
<path d="M52.35,421.60H57.35" stroke="#1a1a1a" stroke-width="1.2"/>
<text x="22.70" y="426.90" font-size="15.67" textLength="23.85" lengthAdjust="spacingAndGlyphs" fill="#1c1c1c">0.0</text>
<path d="M52.35,391.46H57.35" stroke="#1a1a1a" stroke-width="1.2"/>
<text x="22.70" y="396.76" font-size="15.67" textLength="23.85" lengthAdjust="spacingAndGlyphs" fill="#1c1c1c">0.5</text>
<path d="M52.35,361.32H57.35" stroke="#1a1a1a" stroke-width="1.2"/>
<text x="22.70" y="366.62" font-size="15.67" textLength="23.85" lengthAdjust="spacingAndGlyphs" fill="#1c1c1c">1.0</text>
<path d="M52.35,331.18H57.35" stroke="#1a1a1a" stroke-width="1.2"/>
<text x="22.70" y="336.48" font-size="15.67" textLength="23.85" lengthAdjust="spacingAndGlyphs" fill="#1c1c1c">1.5</text>
<path d="M52.35,301.04H57.35" stroke="#1a1a1a" stroke-width="1.2"/>
<text x="22.70" y="306.34" font-size="15.67" textLength="23.85" lengthAdjust="spacingAndGlyphs" fill="#1c1c1c">2.0</text>
<path d="M52.35,270.90H57.35" stroke="#1a1a1a" stroke-width="1.2"/>
<text x="22.70" y="276.20" font-size="15.67" textLength="23.85" lengthAdjust="spacingAndGlyphs" fill="#1c1c1c">2.5</text>
<path d="M57.35,421.60V426.60" stroke="#1a1a1a" stroke-width="1.2"/>
<text x="45.42" y="443.80" font-size="15.67" textLength="23.85" lengthAdjust="spacingAndGlyphs" fill="#1c1c1c">0.3</text>
<path d="M95.01,421.60V426.60" stroke="#1a1a1a" stroke-width="1.2"/>
<text x="83.09" y="443.80" font-size="15.67" textLength="23.85" lengthAdjust="spacingAndGlyphs" fill="#1c1c1c">0.4</text>
<path d="M132.68,421.60V426.60" stroke="#1a1a1a" stroke-width="1.2"/>
<text x="120.75" y="443.80" font-size="15.67" textLength="23.85" lengthAdjust="spacingAndGlyphs" fill="#1c1c1c">0.5</text>
<path d="M170.34,421.60V426.60" stroke="#1a1a1a" stroke-width="1.2"/>
<text x="158.41" y="443.80" font-size="15.67" textLength="23.85" lengthAdjust="spacingAndGlyphs" fill="#1c1c1c">0.6</text>
<path d="M208.00,421.60V426.60" stroke="#1a1a1a" stroke-width="1.2"/>
<text x="196.07" y="443.80" font-size="15.67" textLength="23.85" lengthAdjust="spacingAndGlyphs" fill="#1c1c1c">0.7</text>
<path d="M282.70,162.50H287.70" stroke="#1a1a1a" stroke-width="1.2"/>
<text x="267.36" y="167.80" font-size="15.67" textLength="9.54" lengthAdjust="spacingAndGlyphs" fill="#1c1c1c">0</text>
<path d="M282.70,124.78H287.70" stroke="#1a1a1a" stroke-width="1.2"/>
<text x="267.36" y="130.08" font-size="15.67" textLength="9.54" lengthAdjust="spacingAndGlyphs" fill="#1c1c1c">1</text>
<path d="M282.70,87.05H287.70" stroke="#1a1a1a" stroke-width="1.2"/>
<text x="267.36" y="92.35" font-size="15.67" textLength="9.54" lengthAdjust="spacingAndGlyphs" fill="#1c1c1c">2</text>
<path d="M282.70,49.32H287.70" stroke="#1a1a1a" stroke-width="1.2"/>
<text x="267.36" y="54.62" font-size="15.67" textLength="9.54" lengthAdjust="spacingAndGlyphs" fill="#1c1c1c">3</text>
<path d="M282.70,11.60H287.70" stroke="#1a1a1a" stroke-width="1.2"/>
<text x="267.36" y="16.90" font-size="15.67" textLength="9.54" lengthAdjust="spacingAndGlyphs" fill="#1c1c1c">4</text>
<path d="M287.70,162.50V167.50" stroke="#1a1a1a" stroke-width="1.2"/>
<text x="282.93" y="184.70" font-size="15.67" textLength="9.54" lengthAdjust="spacingAndGlyphs" fill="#1c1c1c">0</text>
<path d="M325.40,162.50V167.50" stroke="#1a1a1a" stroke-width="1.2"/>
<text x="315.86" y="184.70" font-size="15.67" textLength="19.09" lengthAdjust="spacingAndGlyphs" fill="#1c1c1c">45</text>
<path d="M363.10,162.50V167.50" stroke="#1a1a1a" stroke-width="1.2"/>
<text x="353.56" y="184.70" font-size="15.67" textLength="19.09" lengthAdjust="spacingAndGlyphs" fill="#1c1c1c">90</text>
<path d="M400.80,162.50V167.50" stroke="#1a1a1a" stroke-width="1.2"/>
<text x="386.48" y="184.70" font-size="15.67" textLength="28.63" lengthAdjust="spacingAndGlyphs" fill="#1c1c1c">135</text>
<path d="M438.50,162.50V167.50" stroke="#1a1a1a" stroke-width="1.2"/>
<text x="424.18" y="184.70" font-size="15.67" textLength="28.63" lengthAdjust="spacingAndGlyphs" fill="#1c1c1c">180</text>
<path d="M282.70,421.60H287.70" stroke="#1a1a1a" stroke-width="1.2"/>
<text x="267.36" y="426.90" font-size="15.67" textLength="9.54" lengthAdjust="spacingAndGlyphs" fill="#1c1c1c">0</text>
<path d="M282.70,383.93H287.70" stroke="#1a1a1a" stroke-width="1.2"/>
<text x="267.36" y="389.23" font-size="15.67" textLength="9.54" lengthAdjust="spacingAndGlyphs" fill="#1c1c1c">1</text>
<path d="M282.70,346.25H287.70" stroke="#1a1a1a" stroke-width="1.2"/>
<text x="267.36" y="351.55" font-size="15.67" textLength="9.54" lengthAdjust="spacingAndGlyphs" fill="#1c1c1c">2</text>
<path d="M282.70,308.57H287.70" stroke="#1a1a1a" stroke-width="1.2"/>
<text x="267.36" y="313.88" font-size="15.67" textLength="9.54" lengthAdjust="spacingAndGlyphs" fill="#1c1c1c">3</text>
<path d="M282.70,270.90H287.70" stroke="#1a1a1a" stroke-width="1.2"/>
<text x="267.36" y="276.20" font-size="15.67" textLength="9.54" lengthAdjust="spacingAndGlyphs" fill="#1c1c1c">4</text>
<path d="M287.70,421.60V426.60" stroke="#1a1a1a" stroke-width="1.2"/>
<text x="282.93" y="443.80" font-size="15.67" textLength="9.54" lengthAdjust="spacingAndGlyphs" fill="#1c1c1c">0</text>
<path d="M325.40,421.60V426.60" stroke="#1a1a1a" stroke-width="1.2"/>
<text x="315.86" y="443.80" font-size="15.67" textLength="19.09" lengthAdjust="spacingAndGlyphs" fill="#1c1c1c">45</text>
<path d="M363.10,421.60V426.60" stroke="#1a1a1a" stroke-width="1.2"/>
<text x="353.56" y="443.80" font-size="15.67" textLength="19.09" lengthAdjust="spacingAndGlyphs" fill="#1c1c1c">90</text>
<path d="M400.80,421.60V426.60" stroke="#1a1a1a" stroke-width="1.2"/>
<text x="386.48" y="443.80" font-size="15.67" textLength="28.63" lengthAdjust="spacingAndGlyphs" fill="#1c1c1c">135</text>
<path d="M438.50,421.60V426.60" stroke="#1a1a1a" stroke-width="1.2"/>
<text x="424.18" y="443.80" font-size="15.67" textLength="28.63" lengthAdjust="spacingAndGlyphs" fill="#1c1c1c">180</text>
<path d="M513.40,162.50H518.40" stroke="#1a1a1a" stroke-width="1.2"/>
<text x="483.75" y="167.80" font-size="15.67" textLength="23.85" lengthAdjust="spacingAndGlyphs" fill="#1c1c1c">0.0</text>
<path d="M513.40,132.32H518.40" stroke="#1a1a1a" stroke-width="1.2"/>
<text x="483.75" y="137.62" font-size="15.67" textLength="23.85" lengthAdjust="spacingAndGlyphs" fill="#1c1c1c">0.5</text>
<path d="M513.40,102.14H518.40" stroke="#1a1a1a" stroke-width="1.2"/>
<text x="483.75" y="107.44" font-size="15.67" textLength="23.85" lengthAdjust="spacingAndGlyphs" fill="#1c1c1c">1.0</text>
<path d="M513.40,71.96H518.40" stroke="#1a1a1a" stroke-width="1.2"/>
<text x="483.75" y="77.26" font-size="15.67" textLength="23.85" lengthAdjust="spacingAndGlyphs" fill="#1c1c1c">1.5</text>
<path d="M513.40,41.78H518.40" stroke="#1a1a1a" stroke-width="1.2"/>
<text x="483.75" y="47.08" font-size="15.67" textLength="23.85" lengthAdjust="spacingAndGlyphs" fill="#1c1c1c">2.0</text>
<path d="M513.40,11.60H518.40" stroke="#1a1a1a" stroke-width="1.2"/>
<text x="483.75" y="16.90" font-size="15.67" textLength="23.85" lengthAdjust="spacingAndGlyphs" fill="#1c1c1c">2.5</text>
<path d="M518.40,162.50V167.50" stroke="#1a1a1a" stroke-width="1.2"/>
<text x="497.80" y="184.70" font-size="15.67" textLength="41.20" lengthAdjust="spacingAndGlyphs" fill="#1c1c1c">−180</text>
<path d="M556.02,162.50V167.50" stroke="#1a1a1a" stroke-width="1.2"/>
<text x="540.20" y="184.70" font-size="15.67" textLength="31.66" lengthAdjust="spacingAndGlyphs" fill="#1c1c1c">−90</text>
<path d="M593.65,162.50V167.50" stroke="#1a1a1a" stroke-width="1.2"/>
<text x="588.88" y="184.70" font-size="15.67" textLength="9.54" lengthAdjust="spacingAndGlyphs" fill="#1c1c1c">0</text>
<path d="M631.27,162.50V167.50" stroke="#1a1a1a" stroke-width="1.2"/>
<text x="621.73" y="184.70" font-size="15.67" textLength="19.09" lengthAdjust="spacingAndGlyphs" fill="#1c1c1c">90</text>
<path d="M668.90,162.50V167.50" stroke="#1a1a1a" stroke-width="1.2"/>
<text x="654.58" y="184.70" font-size="15.67" textLength="28.63" lengthAdjust="spacingAndGlyphs" fill="#1c1c1c">180</text>
<path d="M513.40,421.60H518.40" stroke="#1a1a1a" stroke-width="1.2"/>
<text x="483.75" y="426.90" font-size="15.67" textLength="23.85" lengthAdjust="spacingAndGlyphs" fill="#1c1c1c">0.0</text>
<path d="M513.40,391.46H518.40" stroke="#1a1a1a" stroke-width="1.2"/>
<text x="483.75" y="396.76" font-size="15.67" textLength="23.85" lengthAdjust="spacingAndGlyphs" fill="#1c1c1c">0.5</text>
<path d="M513.40,361.32H518.40" stroke="#1a1a1a" stroke-width="1.2"/>
<text x="483.75" y="366.62" font-size="15.67" textLength="23.85" lengthAdjust="spacingAndGlyphs" fill="#1c1c1c">1.0</text>
<path d="M513.40,331.18H518.40" stroke="#1a1a1a" stroke-width="1.2"/>
<text x="483.75" y="336.48" font-size="15.67" textLength="23.85" lengthAdjust="spacingAndGlyphs" fill="#1c1c1c">1.5</text>
<path d="M513.40,301.04H518.40" stroke="#1a1a1a" stroke-width="1.2"/>
<text x="483.75" y="306.34" font-size="15.67" textLength="23.85" lengthAdjust="spacingAndGlyphs" fill="#1c1c1c">2.0</text>
<path d="M513.40,270.90H518.40" stroke="#1a1a1a" stroke-width="1.2"/>
<text x="483.75" y="276.20" font-size="15.67" textLength="23.85" lengthAdjust="spacingAndGlyphs" fill="#1c1c1c">2.5</text>
<path d="M518.40,421.60V426.60" stroke="#1a1a1a" stroke-width="1.2"/>
<text x="497.80" y="443.80" font-size="15.67" textLength="41.20" lengthAdjust="spacingAndGlyphs" fill="#1c1c1c">−180</text>
<path d="M556.02,421.60V426.60" stroke="#1a1a1a" stroke-width="1.2"/>
<text x="540.20" y="443.80" font-size="15.67" textLength="31.66" lengthAdjust="spacingAndGlyphs" fill="#1c1c1c">−90</text>
<path d="M593.65,421.60V426.60" stroke="#1a1a1a" stroke-width="1.2"/>
<text x="588.88" y="443.80" font-size="15.67" textLength="9.54" lengthAdjust="spacingAndGlyphs" fill="#1c1c1c">0</text>
<path d="M631.27,421.60V426.60" stroke="#1a1a1a" stroke-width="1.2"/>
<text x="621.73" y="443.80" font-size="15.67" textLength="19.09" lengthAdjust="spacingAndGlyphs" fill="#1c1c1c">90</text>
<path d="M668.90,421.60V426.60" stroke="#1a1a1a" stroke-width="1.2"/>
<text x="654.58" y="443.80" font-size="15.67" textLength="28.63" lengthAdjust="spacingAndGlyphs" fill="#1c1c1c">180</text>
<text x="71.23" y="205.00" font-size="15.67" textLength="101.13" lengthAdjust="spacingAndGlyphs" fill="#1c1c1c">Bond length f</text>
<path transform="translate(172.36,205.00) scale(0.00732,-0.00732)" d="M100 597V687L493 1080L613 960L380 727H1599V557H380L613 324L493 204Z" fill="#1c1c1c"/>
<text x="184.93" y="205.00" font-size="15.67" textLength="9.19" lengthAdjust="spacingAndGlyphs" fill="#1c1c1c">a</text>
<text x="114.76" y="221.90" font-size="15.67" textLength="35.82" lengthAdjust="spacingAndGlyphs" fill="#1c1c1c">(nm)</text>
<g transform="translate(13.55,87.05) rotate(-90)"><text x="-39.94" y="0.00" font-size="15.67" textLength="79.89" lengthAdjust="spacingAndGlyphs" fill="#1c1c1c">Probability</text></g>
<text x="0.00" y="14.80" font-size="18.50" textLength="17.75" lengthAdjust="spacingAndGlyphs" fill="#1c1c1c">a)</text>
<text x="294.56" y="205.00" font-size="15.67" textLength="97.46" lengthAdjust="spacingAndGlyphs" fill="#1c1c1c">Bond angle s</text>
<path transform="translate(392.03,205.00) scale(0.00732,-0.00732)" d="M100 297V387L493 780L613 660L380 427H1599V257H380L613 24L493 -96ZM1616 987V897L1223 504L1103 624L1336 857H117V1027H1336L1103 1260L1223 1380Z" fill="#1c1c1c"/>
<text x="404.60" y="205.00" font-size="15.67" textLength="5.28" lengthAdjust="spacingAndGlyphs" fill="#1c1c1c">f</text>
<path transform="translate(409.88,205.00) scale(0.00732,-0.00732)" d="M100 597V687L493 1080L613 960L380 727H1599V557H380L613 324L493 204Z" fill="#1c1c1c"/>
<text x="422.44" y="205.00" font-size="15.67" textLength="9.19" lengthAdjust="spacingAndGlyphs" fill="#1c1c1c">a</text>
<text x="343.11" y="221.90" font-size="15.67" textLength="39.98" lengthAdjust="spacingAndGlyphs" fill="#1c1c1c">(deg)</text>
<g transform="translate(258.40,87.05) rotate(-90)"><text x="-39.94" y="0.00" font-size="15.67" textLength="79.89" lengthAdjust="spacingAndGlyphs" fill="#1c1c1c">Probability</text></g>
<text x="240.30" y="14.80" font-size="18.50" textLength="18.14" lengthAdjust="spacingAndGlyphs" fill="#1c1c1c">b)</text>
<text x="502.42" y="205.00" font-size="15.67" textLength="122.47" lengthAdjust="spacingAndGlyphs" fill="#1c1c1c">Dihedral angle s</text>
<path transform="translate(624.89,205.00) scale(0.00732,-0.00732)" d="M1616 687V597L1223 204L1103 324L1336 557H117V727H1336L1103 960L1223 1080Z" fill="#1c1c1c"/>
<text x="637.46" y="205.00" font-size="15.67" textLength="7.81" lengthAdjust="spacingAndGlyphs" fill="#1c1c1c">s</text>
<path transform="translate(645.27,205.00) scale(0.00732,-0.00732)" d="M100 297V387L493 780L613 660L380 427H1599V257H380L613 24L493 -96ZM1616 987V897L1223 504L1103 624L1336 857H117V1027H1336L1103 1260L1223 1380Z" fill="#1c1c1c"/>
<text x="657.84" y="205.00" font-size="15.67" textLength="5.28" lengthAdjust="spacingAndGlyphs" fill="#1c1c1c">f</text>
<path transform="translate(663.12,205.00) scale(0.00732,-0.00732)" d="M100 597V687L493 1080L613 960L380 727H1599V557H380L613 324L493 204Z" fill="#1c1c1c"/>
<text x="675.69" y="205.00" font-size="15.67" textLength="9.19" lengthAdjust="spacingAndGlyphs" fill="#1c1c1c">a</text>
<text x="573.66" y="221.90" font-size="15.67" textLength="39.98" lengthAdjust="spacingAndGlyphs" fill="#1c1c1c">(deg)</text>
<g transform="translate(474.60,87.05) rotate(-90)"><text x="-39.94" y="0.00" font-size="15.67" textLength="79.89" lengthAdjust="spacingAndGlyphs" fill="#1c1c1c">Probability</text></g>
<text x="461.60" y="14.80" font-size="18.50" textLength="16.64" lengthAdjust="spacingAndGlyphs" fill="#1c1c1c">c)</text>
<text x="71.23" y="464.10" font-size="15.67" textLength="101.13" lengthAdjust="spacingAndGlyphs" fill="#1c1c1c">Bond length f</text>
<path transform="translate(172.36,464.10) scale(0.00732,-0.00732)" d="M100 597V687L493 1080L613 960L380 727H1599V557H380L613 324L493 204Z" fill="#1c1c1c"/>
<text x="184.93" y="464.10" font-size="15.67" textLength="9.19" lengthAdjust="spacingAndGlyphs" fill="#1c1c1c">a</text>
<text x="114.76" y="481.00" font-size="15.67" textLength="35.82" lengthAdjust="spacingAndGlyphs" fill="#1c1c1c">(nm)</text>
<g transform="translate(13.55,346.25) rotate(-90)"><text x="-39.94" y="0.00" font-size="15.67" textLength="79.89" lengthAdjust="spacingAndGlyphs" fill="#1c1c1c">Probability</text></g>
<text x="0.00" y="274.10" font-size="18.50" textLength="18.14" lengthAdjust="spacingAndGlyphs" fill="#1c1c1c">d)</text>
<text x="294.56" y="464.10" font-size="15.67" textLength="97.46" lengthAdjust="spacingAndGlyphs" fill="#1c1c1c">Bond angle s</text>
<path transform="translate(392.03,464.10) scale(0.00732,-0.00732)" d="M100 297V387L493 780L613 660L380 427H1599V257H380L613 24L493 -96ZM1616 987V897L1223 504L1103 624L1336 857H117V1027H1336L1103 1260L1223 1380Z" fill="#1c1c1c"/>
<text x="404.60" y="464.10" font-size="15.67" textLength="5.28" lengthAdjust="spacingAndGlyphs" fill="#1c1c1c">f</text>
<path transform="translate(409.88,464.10) scale(0.00732,-0.00732)" d="M100 597V687L493 1080L613 960L380 727H1599V557H380L613 324L493 204Z" fill="#1c1c1c"/>
<text x="422.44" y="464.10" font-size="15.67" textLength="9.19" lengthAdjust="spacingAndGlyphs" fill="#1c1c1c">a</text>
<text x="343.11" y="481.00" font-size="15.67" textLength="39.98" lengthAdjust="spacingAndGlyphs" fill="#1c1c1c">(deg)</text>
<g transform="translate(258.40,346.25) rotate(-90)"><text x="-39.94" y="0.00" font-size="15.67" textLength="79.89" lengthAdjust="spacingAndGlyphs" fill="#1c1c1c">Probability</text></g>
<text x="240.30" y="274.10" font-size="18.50" textLength="17.80" lengthAdjust="spacingAndGlyphs" fill="#1c1c1c">e)</text>
<text x="502.42" y="464.10" font-size="15.67" textLength="122.47" lengthAdjust="spacingAndGlyphs" fill="#1c1c1c">Dihedral angle s</text>
<path transform="translate(624.89,464.10) scale(0.00732,-0.00732)" d="M1616 687V597L1223 204L1103 324L1336 557H117V727H1336L1103 960L1223 1080Z" fill="#1c1c1c"/>
<text x="637.46" y="464.10" font-size="15.67" textLength="7.81" lengthAdjust="spacingAndGlyphs" fill="#1c1c1c">s</text>
<path transform="translate(645.27,464.10) scale(0.00732,-0.00732)" d="M100 297V387L493 780L613 660L380 427H1599V257H380L613 24L493 -96ZM1616 987V897L1223 504L1103 624L1336 857H117V1027H1336L1103 1260L1223 1380Z" fill="#1c1c1c"/>
<text x="657.84" y="464.10" font-size="15.67" textLength="5.28" lengthAdjust="spacingAndGlyphs" fill="#1c1c1c">f</text>
<path transform="translate(663.12,464.10) scale(0.00732,-0.00732)" d="M100 597V687L493 1080L613 960L380 727H1599V557H380L613 324L493 204Z" fill="#1c1c1c"/>
<text x="675.69" y="464.10" font-size="15.67" textLength="9.19" lengthAdjust="spacingAndGlyphs" fill="#1c1c1c">a</text>
<text x="573.66" y="481.00" font-size="15.67" textLength="39.98" lengthAdjust="spacingAndGlyphs" fill="#1c1c1c">(deg)</text>
<g transform="translate(474.60,346.25) rotate(-90)"><text x="-39.94" y="0.00" font-size="15.67" textLength="79.89" lengthAdjust="spacingAndGlyphs" fill="#1c1c1c">Probability</text></g>
<text x="461.60" y="274.10" font-size="18.50" textLength="13.14" lengthAdjust="spacingAndGlyphs" fill="#1c1c1c">f)</text>
<text x="173.61" y="30.00" font-size="14.53" textLength="30.89" lengthAdjust="spacingAndGlyphs" fill="#1c1c1c">20%</text>
<text x="404.11" y="30.00" font-size="14.53" textLength="30.89" lengthAdjust="spacingAndGlyphs" fill="#1c1c1c">17%</text>
<text x="634.51" y="30.00" font-size="14.53" textLength="30.89" lengthAdjust="spacingAndGlyphs" fill="#1c1c1c">18%</text>
<text x="173.61" y="289.30" font-size="14.53" textLength="30.89" lengthAdjust="spacingAndGlyphs" fill="#1c1c1c">23%</text>
<text x="404.11" y="289.30" font-size="14.53" textLength="30.89" lengthAdjust="spacingAndGlyphs" fill="#1c1c1c">11%</text>
<text x="634.51" y="289.30" font-size="14.53" textLength="30.89" lengthAdjust="spacingAndGlyphs" fill="#1c1c1c">15%</text>
<rect x="62.6" y="17.6" width="92.40" height="16.60" rx="2" ry="2" fill="#fff" stroke="#3a3a3a" stroke-width="1.4"/>
<path d="M65,25H84.5" stroke="#000" stroke-width="2.2"/>
<path d="M111.3,25H130.7" stroke="#f00" stroke-width="2.2"/>
<text x="88.50" y="29.20" font-size="11.81" textLength="15.46" lengthAdjust="spacingAndGlyphs" fill="#1c1c1c">AA</text>
<text x="135.00" y="29.20" font-size="11.81" textLength="16.65" lengthAdjust="spacingAndGlyphs" fill="#1c1c1c">CG</text>
<rect x="110.54" y="560.14" width="26.59" height="147.86" fill="#fff" stroke="#000" stroke-width="1.1"/>
<rect x="137.13" y="570.14" width="26.59" height="137.86" fill="#808080" stroke="#000" stroke-width="1.1"/>
<rect x="216.92" y="563.99" width="26.59" height="144.01" fill="#fff" stroke="#000" stroke-width="1.1"/>
<rect x="243.51" y="550.15" width="26.60" height="157.85" fill="#808080" stroke="#000" stroke-width="1.1"/>
<path d="M123.84,589.10V531.19M116.54,589.10H131.14M116.54,531.19H131.14" stroke="#000" stroke-width="2.2" fill="none"/>
<path d="M150.43,603.96V536.31M143.13,603.96H157.73M143.13,536.31H157.73" stroke="#000" stroke-width="2.2" fill="none"/>
<path d="M230.22,602.94V525.04M222.92,602.94H237.52M222.92,525.04H237.52" stroke="#000" stroke-width="2.2" fill="none"/>
<path d="M256.81,580.90V519.91M249.51,580.90H264.11M249.51,519.91H264.11" stroke="#000" stroke-width="2.2" fill="none"/>
<rect x="57.35" y="503.00" width="265.95" height="205.00" fill="none" stroke="#1a1a1a" stroke-width="1.2"/>
<path d="M137.13,708.00V713.00" stroke="#1a1a1a" stroke-width="1.2"/>
<text x="122.00" y="729.70" font-size="15.67" textLength="30.28" lengthAdjust="spacingAndGlyphs" fill="#1c1c1c">1CA</text>
<path d="M243.51,708.00V713.00" stroke="#1a1a1a" stroke-width="1.2"/>
<text x="228.38" y="729.70" font-size="15.67" textLength="30.28" lengthAdjust="spacingAndGlyphs" fill="#1c1c1c">3CA</text>
<path d="M52.35,708.00H57.35" stroke="#1a1a1a" stroke-width="1.2"/>
<text x="37.01" y="713.30" font-size="15.67" textLength="9.54" lengthAdjust="spacingAndGlyphs" fill="#1c1c1c">0</text>
<path d="M52.35,656.75H57.35" stroke="#1a1a1a" stroke-width="1.2"/>
<text x="37.01" y="662.05" font-size="15.67" textLength="9.54" lengthAdjust="spacingAndGlyphs" fill="#1c1c1c">1</text>
<path d="M52.35,605.50H57.35" stroke="#1a1a1a" stroke-width="1.2"/>
<text x="37.01" y="610.80" font-size="15.67" textLength="9.54" lengthAdjust="spacingAndGlyphs" fill="#1c1c1c">2</text>
<path d="M52.35,554.25H57.35" stroke="#1a1a1a" stroke-width="1.2"/>
<text x="37.01" y="559.55" font-size="15.67" textLength="9.54" lengthAdjust="spacingAndGlyphs" fill="#1c1c1c">3</text>
<path d="M52.35,503.00H57.35" stroke="#1a1a1a" stroke-width="1.2"/>
<text x="37.01" y="508.30" font-size="15.67" textLength="9.54" lengthAdjust="spacingAndGlyphs" fill="#1c1c1c">4</text>
<rect x="456.28" y="531.84" width="26.59" height="176.16" fill="#fff" stroke="#000" stroke-width="1.1"/>
<rect x="482.87" y="550.83" width="26.59" height="157.17" fill="#808080" stroke="#000" stroke-width="1.1"/>
<rect x="562.64" y="521.31" width="26.59" height="186.69" fill="#fff" stroke="#000" stroke-width="1.1"/>
<rect x="589.23" y="524.59" width="26.59" height="183.41" fill="#808080" stroke="#000" stroke-width="1.1"/>
<path d="M469.58,539.90V523.64M462.28,539.90H476.88M462.28,523.64H476.88" stroke="#000" stroke-width="2.2" fill="none"/>
<path d="M496.17,557.53V543.45M488.87,557.53H503.47M488.87,543.45H503.47" stroke="#000" stroke-width="2.2" fill="none"/>
<path d="M575.93,529.10V512.43M568.63,529.10H583.23M568.63,512.43H583.23" stroke="#000" stroke-width="2.2" fill="none"/>
<path d="M602.52,533.20V516.39M595.23,533.20H609.82M595.23,516.39H609.82" stroke="#000" stroke-width="2.2" fill="none"/>
<rect x="403.10" y="503.00" width="265.90" height="205.00" fill="none" stroke="#1a1a1a" stroke-width="1.2"/>
<path d="M482.87,708.00V713.00" stroke="#1a1a1a" stroke-width="1.2"/>
<text x="467.73" y="729.70" font-size="15.67" textLength="30.28" lengthAdjust="spacingAndGlyphs" fill="#1c1c1c">1CA</text>
<path d="M589.23,708.00V713.00" stroke="#1a1a1a" stroke-width="1.2"/>
<text x="574.09" y="729.70" font-size="15.67" textLength="30.28" lengthAdjust="spacingAndGlyphs" fill="#1c1c1c">3CA</text>
<path d="M398.10,708.00H403.10" stroke="#1a1a1a" stroke-width="1.2"/>
<text x="368.45" y="713.30" font-size="15.67" textLength="23.85" lengthAdjust="spacingAndGlyphs" fill="#1c1c1c">0.0</text>
<path d="M398.10,639.67H403.10" stroke="#1a1a1a" stroke-width="1.2"/>
<text x="368.45" y="644.97" font-size="15.67" textLength="23.85" lengthAdjust="spacingAndGlyphs" fill="#1c1c1c">0.5</text>
<path d="M398.10,571.33H403.10" stroke="#1a1a1a" stroke-width="1.2"/>
<text x="368.45" y="576.63" font-size="15.67" textLength="23.85" lengthAdjust="spacingAndGlyphs" fill="#1c1c1c">1.0</text>
<path d="M398.10,503.00H403.10" stroke="#1a1a1a" stroke-width="1.2"/>
<text x="368.45" y="508.30" font-size="15.67" textLength="23.85" lengthAdjust="spacingAndGlyphs" fill="#1c1c1c">1.5</text>
<rect x="62.6" y="508.6" width="92.50" height="16.90" rx="2" ry="2" fill="#fff" stroke="#3a3a3a" stroke-width="1.4"/>
<rect x="65.4" y="512.4" width="17.2" height="8.1" fill="#fff" stroke="#000" stroke-width="1.1"/>
<rect x="112.4" y="512.4" width="17.2" height="8.1" fill="#808080" stroke="#000" stroke-width="1.1"/>
<text x="88.30" y="520.60" font-size="11.81" textLength="15.46" lengthAdjust="spacingAndGlyphs" fill="#1c1c1c">AA</text>
<text x="135.00" y="520.60" font-size="11.81" textLength="16.65" lengthAdjust="spacingAndGlyphs" fill="#1c1c1c">CG</text>
<text x="7.90" y="510.00" font-size="18.50" textLength="18.14" lengthAdjust="spacingAndGlyphs" fill="#1c1c1c">g)</text>
<text x="340.40" y="510.00" font-size="18.50" textLength="18.12" lengthAdjust="spacingAndGlyphs" fill="#1c1c1c">h)</text>
<g transform="translate(28.00,605.50) rotate(-90)">
<text x="-28.74" y="0" font-size="15.67" font-style="italic" textLength="10.42" lengthAdjust="spacingAndGlyphs" fill="#1c1c1c">R</text>
<text x="-18.31" y="2.3" font-size="10.97" font-style="italic" textLength="6.46" lengthAdjust="spacingAndGlyphs" fill="#1c1c1c">e</text>
<text x="-7.09" y="0.00" font-size="15.67" textLength="35.82" lengthAdjust="spacingAndGlyphs" fill="#1c1c1c">(nm)</text>
</g>
<g transform="translate(359.00,605.50) rotate(-90)">
<text x="-28.84" y="0" font-size="15.67" font-style="italic" textLength="10.42" lengthAdjust="spacingAndGlyphs" fill="#1c1c1c">R</text>
<text x="-18.42" y="2.3" font-size="10.97" font-style="italic" textLength="6.67" lengthAdjust="spacingAndGlyphs" fill="#1c1c1c">g</text>
<text x="-6.98" y="0.00" font-size="15.67" textLength="35.82" lengthAdjust="spacingAndGlyphs" fill="#1c1c1c">(nm)</text>
</g>
</svg></body></html>
